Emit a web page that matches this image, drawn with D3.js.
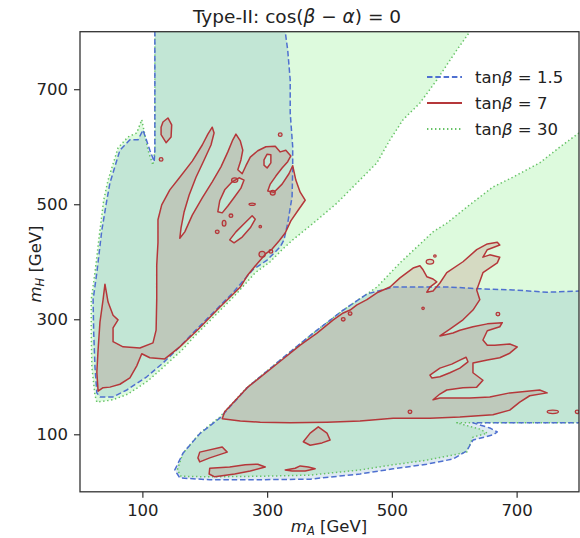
<!DOCTYPE html>
<html><head><meta charset="utf-8">
<script src="https://cdn.jsdelivr.net/npm/d3@7"></script>
<style>
body{margin:0;background:#fff;}
text{font-family:'DejaVu Sans',sans-serif;fill:#222;}
</style>
</head><body>
<svg id="c" width="580" height="538"></svg>
<script>
// ---------- data (GeV) ----------
const xTicks = [100, 300, 500, 700];
const yTicks = [100, 300, 500, 700];
const legendLabels = ["1.5", "7", "30"];

// tanβ = 30 allowed regions
const green1 = [[120,830],[120,594],[117,568],[109,594],[99,647],[91,624],[77,617],[61,598],[45,542],[38,507],[32,455],[24,381],[18,334],[18,276],[19,217],[24,168],[27,156],[53,160],[77,170],[109,193],[136,219],[164,247],[184,271],[216,306],[248,341],[281,381],[305,400],[325,422],[341,438],[374,467],[412,502],[444,537],[476,572],[497,612],[518,647],[545,676],[572,716],[604,768],[625,800],[637,830]];
const green2 = [[830,650],[800,624],[770,600],[737,572],[694,547],[662,530],[620,495],[588,467],[566,452],[513,398],[476,356],[422,316],[374,276],[321,229],[268,182],[224,130],[192,102],[165,67],[156,38],[162,27],[208,26],[289,27],[369,29],[449,38],[502,47],[556,55],[598,64],[620,69],[630,95],[653,102],[641,109],[604,120],[830,120]];

// tanβ = 1.5 allowed regions
const blue1 = [[120,830],[120,751],[120,594],[119,574],[112,594],[101,629],[93,612],[80,612],[64,594],[48,537],[43,507],[35,455],[27,381],[21,334],[22,276],[24,217],[27,172],[32,165],[53,165],[75,177],[107,200],[133,224],[160,252],[181,276],[213,311],[245,346],[277,386],[300,403],[321,426],[327,438],[333,467],[340,513],[341,560],[341,600],[337,659],[337,716],[333,768],[329,800],[328,830]];
const blue2 = [[830,349],[800,349],[749,347],[694,351],[641,353],[593,356],[540,356],[502,356],[460,344],[422,316],[374,276],[321,229],[268,181],[224,128],[192,101],[165,67],[152,38],[160,24],[208,21],[289,21],[369,22],[449,31],[502,40],[556,48],[598,57],[620,71],[630,90],[662,99],[669,104],[657,111],[630,120],[830,120]];

// tanβ = 7 allowed regions
const red1 = [[29,175],[27,208],[29,247],[32,295],[37,334],[40,361],[45,330],[53,307],[61,299],[53,285],[53,261],[69,252],[96,250],[117,259],[122,281],[123,334],[123,394],[125,433],[125,473],[131,499],[144,525],[160,547],[180,575],[196,603],[205,622],[212,634],[215,624],[210,603],[199,577],[186,547],[175,516],[167,487],[162,459],[160,441],[168,452],[180,481],[196,511],[212,539],[226,565],[237,591],[245,612],[250,622],[257,610],[261,594],[258,577],[253,560],[260,553],[266,567],[273,582],[285,593],[298,600],[313,601],[321,591],[330,594],[338,584],[333,574],[324,563],[314,549],[305,535],[301,523],[311,521],[324,535],[335,553],[341,567],[346,542],[353,521],[361,507],[350,490],[338,471],[329,450],[319,436],[308,422],[298,414],[285,398],[269,377],[257,356],[224,321],[188,281],[160,252],[136,231],[112,233],[99,240],[91,219],[80,198],[64,187],[48,182],[37,181]];
const red1HoleA = [[221,487],[224,506],[232,525],[244,539],[255,546],[263,542],[258,528],[248,513],[237,497],[228,485]];
const red1HoleB = [[240,438],[250,452],[263,466],[276,480],[281,474],[273,459],[260,443],[247,433]];
const red1HoleC = [[295,577],[300,587],[306,586],[306,572],[300,563],[295,568]];
const red1Isle = [[133,643],[141,650],[147,638],[146,617],[138,607],[130,621],[130,634]];
const red2 = [[228,127],[257,123],[289,121],[337,120],[396,121],[449,123],[502,128],[561,128],[609,130],[662,134],[689,142],[705,156],[721,167],[749,172],[737,177],[717,175],[689,172],[657,165],[625,163],[604,163],[577,163],[566,160],[577,170],[588,177],[614,181],[636,182],[646,194],[630,207],[630,224],[653,229],[673,233],[689,241],[701,252],[689,257],[665,255],[653,255],[646,264],[653,280],[673,287],[677,294],[653,292],[630,287],[609,281],[598,276],[577,271],[593,283],[614,299],[630,316],[641,334],[636,351],[646,381],[669,398],[673,408],[657,412],[646,408],[653,421],[673,429],[669,434],[653,431],[636,421],[614,400],[588,381],[577,363],[566,349],[556,347],[561,356],[572,365],[566,370],[556,374],[550,386],[545,393],[534,389],[513,372],[497,356],[476,346],[460,334],[444,325],[433,316],[422,311],[406,299],[380,276],[353,255],[321,227],[268,181],[232,139]];
const red2Hole = [[561,203],[577,215],[596,222],[609,229],[619,234],[622,226],[609,215],[593,207],[577,200],[564,198]];
const redLow1 = [[358,87],[369,102],[382,113],[396,102],[401,90],[388,85],[369,81]];
const redLow2 = [[189,59],[192,69],[228,78],[236,69],[208,59],[192,52]];
const redLow3 = [[208,41],[240,43],[265,47],[285,48],[297,43],[273,36],[248,31],[216,26],[207,31]];
const redLow4 = [[329,38],[345,41],[353,45],[366,43],[377,40],[361,36],[340,36]];
// tiny tanβ = 7 islands: [mA, mH, half-width, half-height]
const redDots = [[130,578,3,3],[248,542,5,4],[242,480,3,3],[231,467,3,5],[220,452,3,3],[276,500,5,2],[289,461,2,2],[321,621,3,3],[309,520,4,4],[292,413,5,5],[306,418,3,3],[422,300,3,3],[433,310,3,3],[550,319,2,2],[670,309,3,3],[561,400,6,4],[569,410,2,2],[529,139,3,3],[758,139,9,3],[797,139,3,3]];

// ---------- drawing ----------
const svg = d3.select('#c');
const L = 80, R = 579, T = 31.7, B = 491.8;
const x = d3.scaleLinear().domain([0, 800]).range([L, R]);
const y = d3.scaleLinear().domain([0, 800]).range([B, T]);
const line = d3.line().x(d => x(d[0])).y(d => y(d[1])).curve(d3.curveLinearClosed);

const COL = {
  green: {fill: '#90ee90', op: 0.3, stroke: '#66c266', dash: '1.4,2.6'},
  blue:  {fill: '#4a8ab0', op: 0.18, stroke: '#4f70d0', dash: '5.5,2.8'},
  red:   {fill: '#a52a2a', op: 0.15, stroke: '#b5373a', dash: null}
};

svg.append('defs').append('clipPath').attr('id', 'clip')
  .append('rect').attr('x', L).attr('y', T).attr('width', R - L).attr('height', B - T);
const g = svg.append('g').attr('clip-path', 'url(#clip)');

const groups = [
  {c: COL.green, shapes: [[green1], [green2]]},
  {c: COL.blue,  shapes: [[blue1], [blue2]]},
  {c: COL.red,   shapes: [[red1, red1HoleA, red1HoleB, red1HoleC], [red1Isle], [red2, red2Hole], [redLow1], [redLow2], [redLow3], [redLow4]]}
];
// fills
groups.forEach(gr => {
  gr.shapes.forEach(rings => {
    g.append('path').attr('d', rings.map(r => line(r)).join(''))
      .attr('fill', gr.c.fill).attr('fill-opacity', gr.c.op).attr('fill-rule', 'evenodd').attr('stroke', 'none');
  });
});
g.selectAll('ellipse.rf').data(redDots).join('ellipse').attr('class', 'rf')
  .attr('cx', d => x(d[0])).attr('cy', d => y(d[1]))
  .attr('rx', d => x(d[2]) - x(0)).attr('ry', d => y(0) - y(d[3]))
  .attr('fill', COL.red.fill).attr('fill-opacity', COL.red.op);
// contour lines
groups.forEach(gr => {
  gr.shapes.forEach(rings => {
    g.append('path').attr('d', rings.map(r => line(r)).join(''))
      .attr('fill', 'none').attr('stroke', gr.c.stroke).attr('stroke-width', 1.5)
      .attr('stroke-dasharray', gr.c.dash).attr('stroke-linejoin', 'round');
  });
});
g.selectAll('ellipse.rs').data(redDots).join('ellipse').attr('class', 'rs')
  .attr('cx', d => x(d[0])).attr('cy', d => y(d[1]))
  .attr('rx', d => x(d[2]) - x(0)).attr('ry', d => y(0) - y(d[3]))
  .attr('fill', 'none').attr('stroke', COL.red.stroke).attr('stroke-width', 1.3);

// axes
const axColor = '#333';
const xa = svg.append('g').attr('transform', `translate(0,${B})`)
  .call(d3.axisBottom(x).tickValues(xTicks).tickSize(6).tickPadding(6).tickFormat(d3.format('d')));
const ya = svg.append('g').attr('transform', `translate(${L},0)`)
  .call(d3.axisLeft(y).tickValues(yTicks).tickSize(6).tickPadding(6).tickFormat(d3.format('d')));
[xa, ya].forEach(a => {
  a.select('.domain').remove();
  a.selectAll('line').attr('stroke', axColor).attr('stroke-width', 1.2);
  a.selectAll('text').attr('font-size', '16.5px').attr('font-family', "'DejaVu Sans',sans-serif").attr('fill', '#222');
});
svg.append('rect').attr('x', L).attr('y', T).attr('width', R - L).attr('height', B - T)
  .attr('fill', 'none').attr('stroke', axColor).attr('stroke-width', 1.3);

// title
const title = svg.append('text').attr('x', 297).attr('y', 23).attr('text-anchor', 'middle').attr('font-size', '18.5px');
title.append('tspan').text('Type-II: cos(');
title.append('tspan').attr('font-style', 'italic').text('β');
title.append('tspan').text(' − ');
title.append('tspan').attr('font-style', 'italic').text('α');
title.append('tspan').text(') = 0');

// axis labels
const xl = svg.append('text').attr('x', 329).attr('y', 532).attr('text-anchor', 'middle').attr('font-size', '16.5px');
xl.append('tspan').attr('font-style', 'italic').text('m');
xl.append('tspan').attr('font-style', 'italic').attr('font-size', '11.5px').attr('dy', 3).text('A');
xl.append('tspan').attr('dy', -3).text(' [GeV]');
const yl = svg.append('text').attr('transform', 'translate(41,264) rotate(-90)').attr('text-anchor', 'middle').attr('font-size', '16.5px');
yl.append('tspan').attr('font-style', 'italic').text('m');
yl.append('tspan').attr('font-style', 'italic').attr('font-size', '11.5px').attr('dy', 3).text('H');
yl.append('tspan').attr('dy', -3).text(' [GeV]');

// legend
const legCols = [COL.blue, COL.red, COL.green];
legendLabels.forEach((lab, i) => {
  const yy = 77 + i * 26;
  svg.append('line').attr('x1', 427).attr('x2', 462).attr('y1', yy).attr('y2', yy)
    .attr('stroke', legCols[i].stroke).attr('stroke-width', 1.8).attr('stroke-dasharray', legCols[i].dash);
  const t = svg.append('text').attr('x', 475).attr('y', yy + 6).attr('font-size', '16.5px');
  t.append('tspan').text('tan');
  t.append('tspan').attr('font-style', 'italic').text('β');
  t.append('tspan').text(' = ' + lab);
});
</script>
</body></html>
